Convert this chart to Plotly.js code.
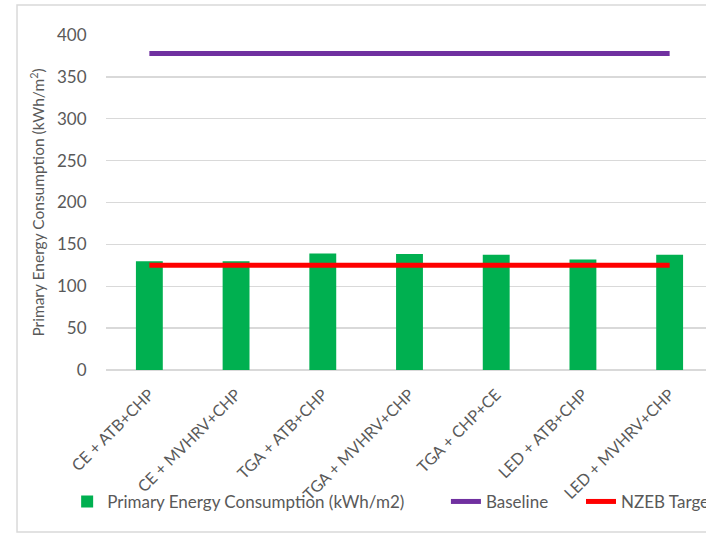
<!DOCTYPE html>
<html>
<head>
<meta charset="utf-8">
<script src="https://cdn.plot.ly/plotly-3.0.1.min.js"></script>
<style>
html,body{margin:0;padding:0;width:706px;height:540px;overflow:hidden;background:#fff;}
#chart{width:760px;height:540px;}
</style>
</head>
<body>
<div id="chart"></div>
<script>
const categories = ["CE + ATB+CHP","CE + MVHRV+CHP","TGA + ATB+CHP","TGA + MVHRV+CHP","TGA + CHP+CE","LED + ATB+CHP","LED + MVHRV+CHP"];
const primaryEnergy = [130, 130, 139, 138.5, 137.5, 132, 137.5];
const baseline = [378, 378, 378, 378, 378, 378, 378];
const nzebTarget = [125, 125, 125, 125, 125, 125, 125];
const yTicks = [0, 50, 100, 150, 200, 250, 300, 350, 400];

const font = "Lato, 'Open Sans', sans-serif";
const grey = "#595959";

const traces = [
  {type:"bar", name:"Primary Energy Consumption (kWh/m2)", x:categories, y:primaryEnergy,
   marker:{color:"#00b050", line:{width:0}}, width:0.31, legend:"legend"},
  {type:"scatter", mode:"lines", name:"Baseline", x:categories, y:baseline,
   line:{color:"#7030a0", width:5}, legend:"legend2"},
  {type:"scatter", mode:"lines", name:"NZEB Target", x:categories, y:nzebTarget,
   line:{color:"#ff0000", width:5}, legend:"legend3"}
];

function leg(x){
  return {orientation:"h", x:x, xanchor:"left", y:-0.34, yanchor:"top",
          bgcolor:"rgba(0,0,0,0)", font:{family:font, size:17, color:grey}};
}

const layout = {
  width:760, height:540,
  margin:{l:106, r:47, t:35, b:170},
  paper_bgcolor:"#fff", plot_bgcolor:"#fff",
  font:{family:font, color:grey, size:16},
  showlegend:true,
  legend:leg(-0.064),
  legend2:leg(0.560),
  legend3:leg(0.7825),
  xaxis:{type:"category", showgrid:false, zeroline:false, showline:false,
         tickangle:-45, ticks:"outside", ticklen:8, tickcolor:"rgba(0,0,0,0)",
         tickfont:{family:font, size:16, color:grey}, fixedrange:true},
  yaxis:{range:[0,400], tickvals:yTicks, ticktext:yTicks.map(String),
         showgrid:true, gridcolor:"#d9d9d9", gridwidth:1.3,
         zeroline:true, zerolinecolor:"#d9d9d9", zerolinewidth:1.3,
         ticks:"outside", ticklen:15, tickcolor:"rgba(0,0,0,0)",
         tickfont:{family:font, size:17, color:grey},
         title:{text:"Primary Energy Consumption (kWh/m<sup>2</sup>)", standoff:8,
                font:{family:font, size:15.5, color:grey}}},
  shapes:[{type:"rect", xref:"paper", yref:"paper", x0:-0.1466, x1:1.3, y0:-0.4836, y1:1.0896,
           line:{color:"#d9d9d9", width:1.5}, fillcolor:"rgba(0,0,0,0)", layer:"below"}],
  annotations:[{xref:"paper", yref:"paper", x:0.2636, y:1.0985, xanchor:"center", yanchor:"bottom",
                text:"<b>(kWh/m²)</b>", showarrow:false, font:{family:font, size:22, color:"#000"}}]
};

Plotly.newPlot("chart", traces, layout, {displayModeBar:false, staticPlot:true});
</script>
</body>
</html>
